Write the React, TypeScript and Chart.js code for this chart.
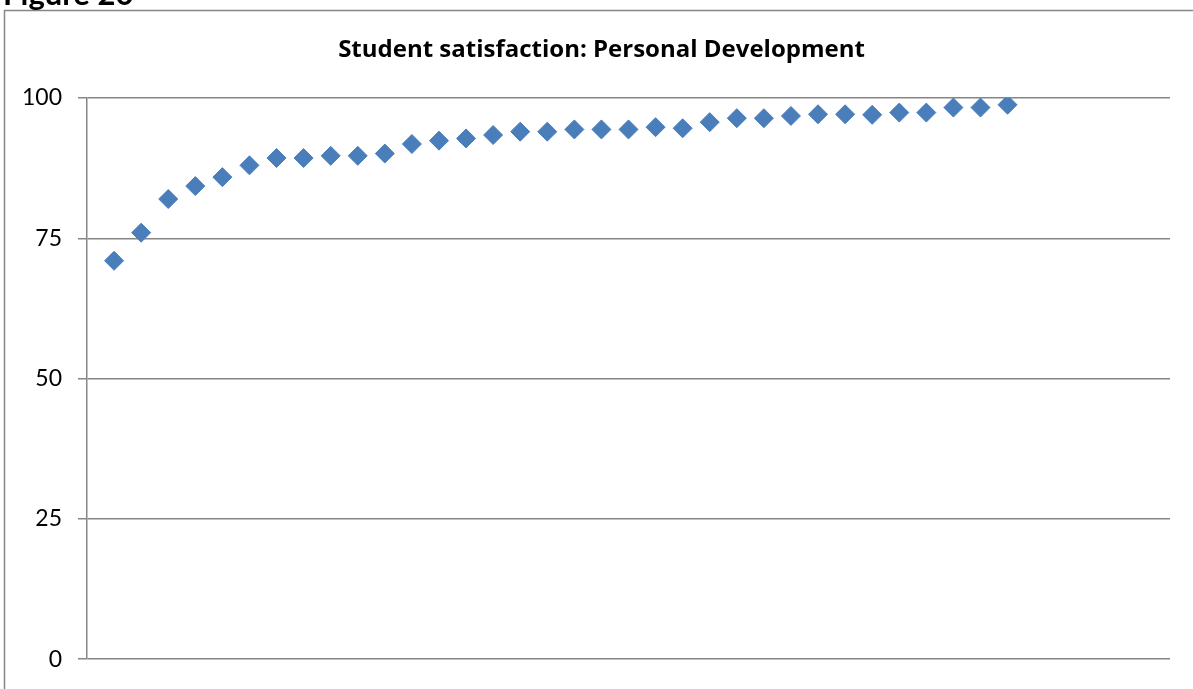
import React, { useEffect, useRef } from "react";
import { Chart, registerables } from "chart.js";

Chart.register(...registerables);

const figureLabel = "Figure 20";
const chartTitle = "Student satisfaction: Personal Development";
const pointIndex = [
  1, 2, 3, 4, 5, 6, 7, 8, 9, 10, 11, 12, 13, 14, 15, 16, 17,
  18, 19, 20, 21, 22, 23, 24, 25, 26, 27, 28, 29, 30, 31, 32, 33, 34,
];
const satisfactionValues = [
  71.0, 76.0, 82.0, 84.3, 85.9, 88.0, 89.3, 89.3, 89.7, 89.7, 90.1, 91.8,
  92.4, 92.8, 93.4, 94.0, 94.0, 94.4, 94.4, 94.4, 94.8, 94.6, 95.7, 96.4,
  96.4, 96.8, 97.1, 97.1, 97.0, 97.4, 97.4, 98.3, 98.3, 98.8,
];
const yTicks = [0, 25, 50, 75, 100];
const xRange = [0, 40];

const W = 1193;
const H = 689;

export default function App() {
  const ref = useRef<HTMLCanvasElement | null>(null);

  useEffect(() => {
    const canvas = ref.current;
    if (!canvas) return;

    const framePlugin = {
      id: "frameDecor",
      beforeDraw(chart: any) {
        const ctx = chart.ctx;
        ctx.save();
        ctx.fillStyle = "#ffffff";
        ctx.fillRect(0, 0, chart.width, chart.height);
        ctx.strokeStyle = "#868686";
        ctx.lineWidth = 1.5;
        ctx.strokeRect(4.5, 10.5, 1400, 1000);
        ctx.fillStyle = "#000000";
        ctx.font = "bold 31px Lato";
        ctx.textBaseline = "alphabetic";
        ctx.textAlign = "left";
        ctx.fillText(figureLabel, 3, 5);
        ctx.restore();
      },
    };

    const chart = new Chart(canvas, {
      type: "scatter",
      data: {
        datasets: [
          {
            data: pointIndex.map((x, i) => ({ x, y: satisfactionValues[i] })),
            pointStyle: "rectRot",
            pointRadius: 9.5,
            pointHoverRadius: 9.5,
            backgroundColor: "#4a7ebb",
            borderColor: "#4a7ebb",
            borderWidth: 1,
            showLine: false,
          },
        ],
      },
      options: {
        responsive: false,
        animation: false,
        events: [],
        layout: { padding: { left: 10, right: 0, top: 0, bottom: 27 } },
        plugins: {
          legend: { display: false },
          tooltip: { enabled: false },
          title: {
            display: true,
            text: chartTitle,
            color: "#000000",
            font: { family: "Open Sans", size: 24, weight: "bold", lineHeight: 1.2 },
            padding: { top: 35.6, bottom: 33.6 },
          },
        },
        scales: {
          x: {
            type: "linear",
            min: xRange[0],
            max: xRange[1],
            display: false,
          },
          y: {
            type: "linear",
            position: "left",
            min: 0,
            max: 100,
            afterFit(scale: any) {
              scale.width = 77;
            },
            afterBuildTicks(scale: any) {
              scale.ticks = yTicks.map((v) => ({ value: v }));
            },
            ticks: {
              color: "#000000",
              font: { family: "Lato", size: 23 },
              padding: 16,
            },
            grid: {
              color: "#868686",
              lineWidth: 1.5,
              drawTicks: true,
              tickLength: 9,
            },
            border: { display: true, color: "#868686", width: 1.5 },
          },
          yRight: {
            type: "linear",
            position: "right",
            display: true,
            afterFit(scale: any) {
              scale.width = 23;
            },
            ticks: { display: false },
            grid: { display: false, drawTicks: false },
            border: { display: false },
          },
        },
      },
      plugins: [framePlugin],
    });

    return () => chart.destroy();
  }, []);

  return (
    <div style={{ position: "fixed", left: 0, top: 0, width: W, height: H, overflow: "hidden", background: "#fff" }}>
      <canvas ref={ref} width={W} height={H} style={{ display: "block", width: W, height: H }} />
    </div>
  );
}
